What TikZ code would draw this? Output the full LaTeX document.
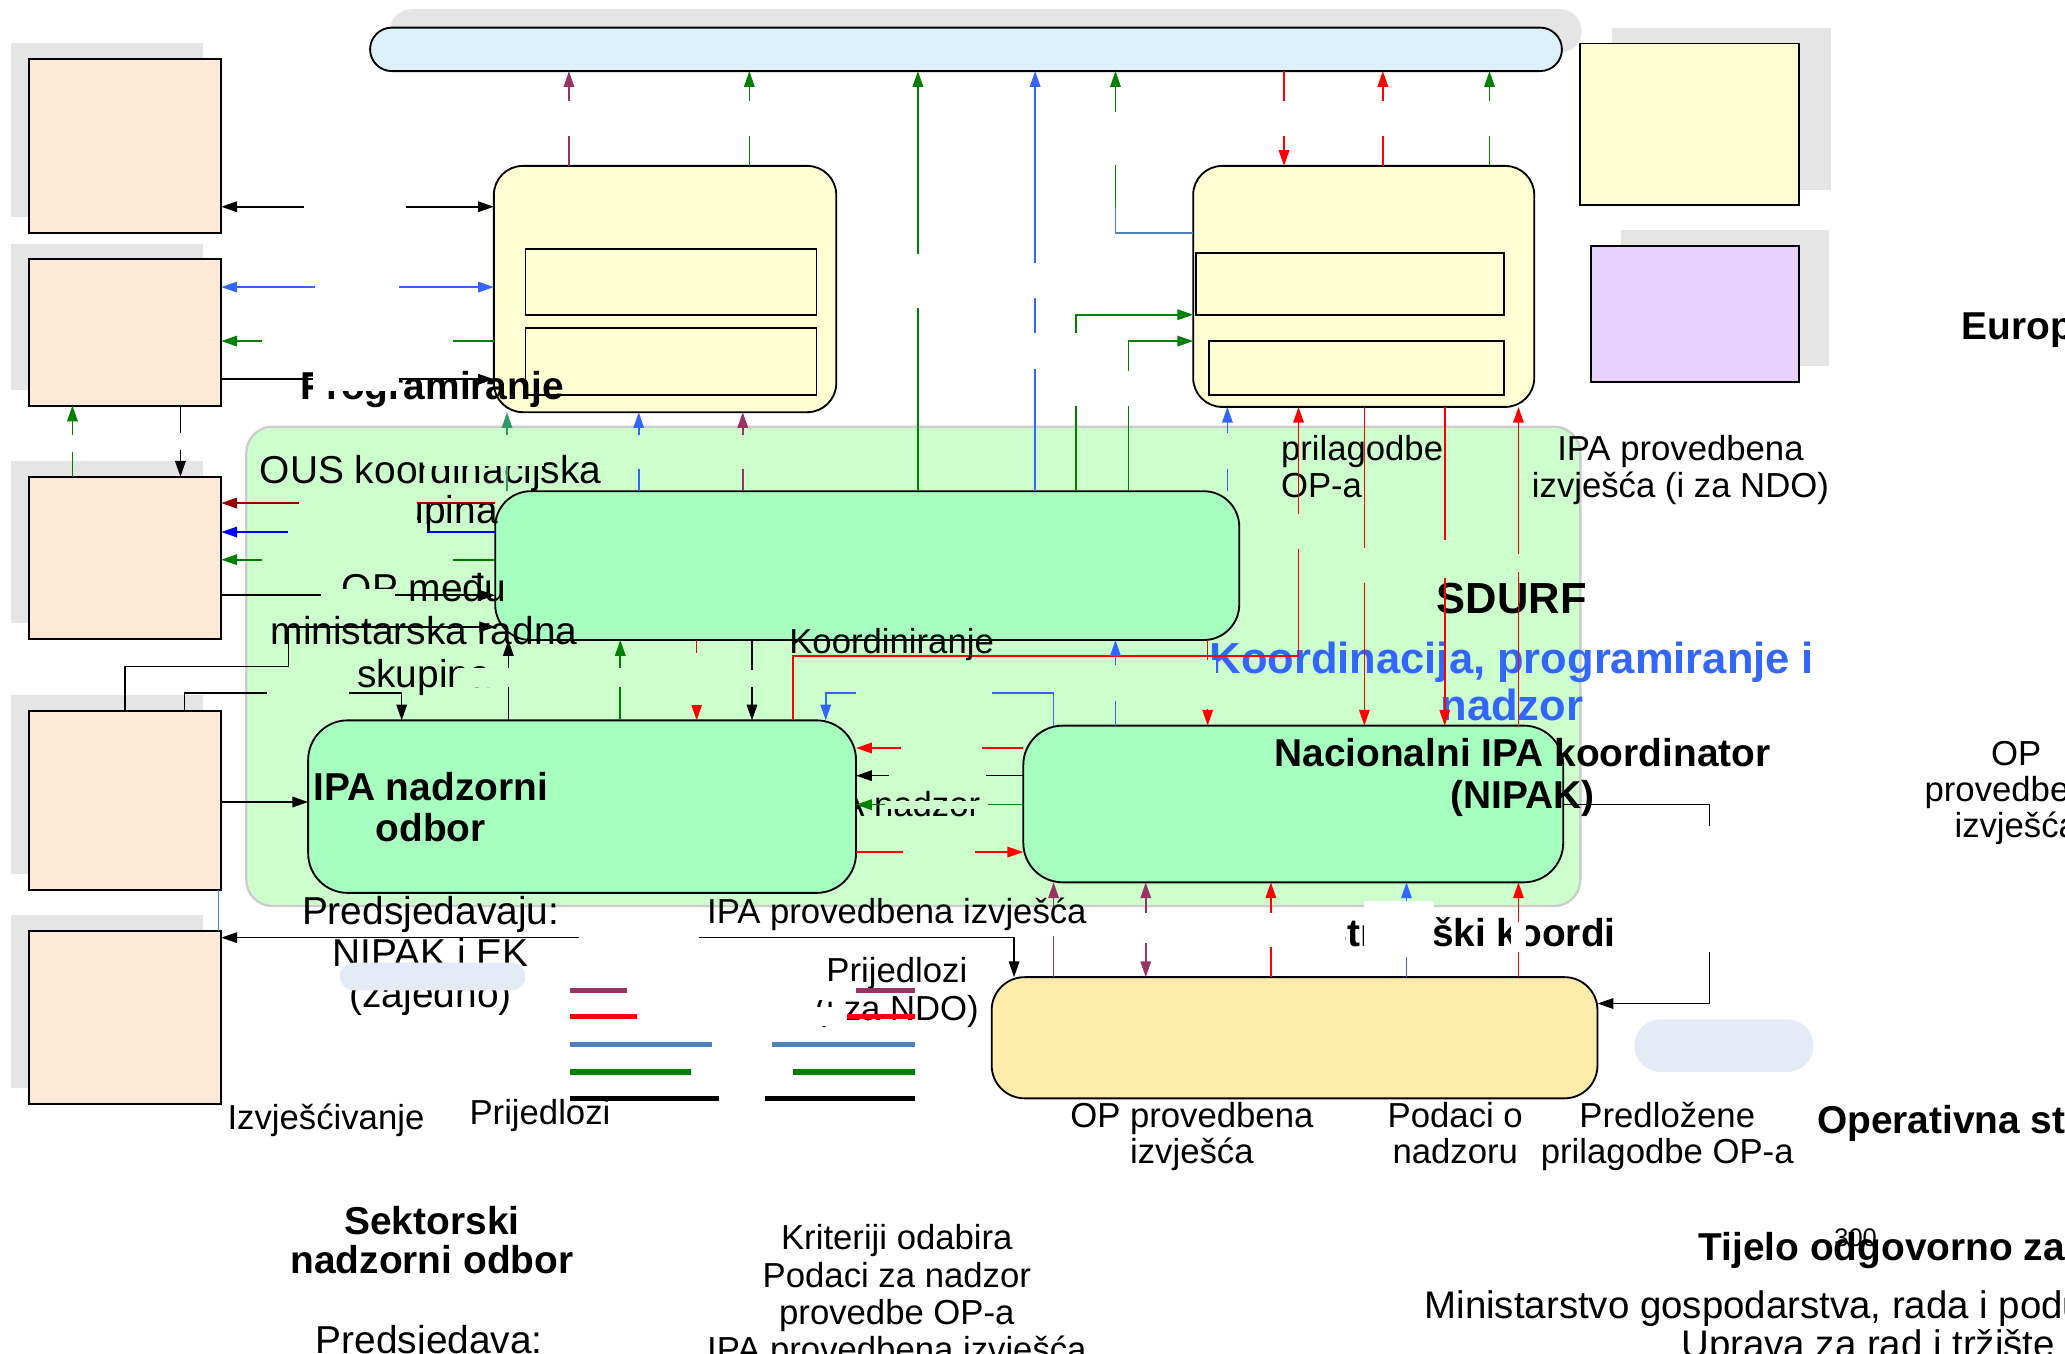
\documentclass[tikz,border=0pt]{standalone}
\usepackage{fontspec}
\setmainfont{Liberation Sans}
\usetikzlibrary{arrows.meta}
\definecolor{peach}{HTML}{FDE9D6}
\definecolor{lemon}{HTML}{FFFFD4}
\definecolor{lilac}{HTML}{E6D2FC}
\definecolor{sky}{HTML}{DCF1FB}
\definecolor{mint}{HTML}{CCFFCC}
\definecolor{leaf}{HTML}{A7FFBF}
\definecolor{sand}{HTML}{FFECAB}
\definecolor{mist}{HTML}{E5EBF6}
\definecolor{shadowgray}{HTML}{E5E5E5}
\definecolor{cPur}{HTML}{993366}
\definecolor{cRed}{HTML}{FF0000}
\definecolor{cBlu}{HTML}{3366FF}
\definecolor{cGrn}{HTML}{008000}
\definecolor{cTea}{HTML}{339966}
\definecolor{cDrd}{HTML}{990000}
\definecolor{cDbl}{HTML}{0000FF}
\definecolor{cLeg}{HTML}{4F81BD}
\begin{document}
\begin{tikzpicture}[x=0.1mm, y=-0.1mm, >={Triangle[length=1.2mm,width=0.8mm]},
  box/.style={draw, line width=0.4pt, inner sep=0pt, outer sep=0pt},
  con/.style={line width=0.35pt},
  sm/.style={inner sep=0pt, align=center, font=\fontsize{7.5}{8.1}\selectfont},
  md/.style={inner sep=0pt, align=center, font=\fontsize{8.4}{9}\selectfont},
  bd/.style={inner sep=0pt, align=center, font=\bfseries\fontsize{8.4}{8.8}\selectfont},
  bg/.style={inner sep=0pt, align=center, font=\bfseries\fontsize{9.4}{10.1}\selectfont}]
\useasboundingbox (0,0) rectangle (1568,1028);

% shadows
\fill[shadowgray, rounded corners=1.65mm] (296,7) rectangle (1201,40);
\foreach \ya/\yb in {45/177, 197/308, 362/485, 540/676, 707/838}
  \fill[shadowgray] (8,\ya-12) rectangle (154,\yb-12);
\fill[shadowgray] (1224,21) rectangle (1390,144);
\fill[shadowgray] (1231,175) rectangle (1389,278);

% outer boxes
\node[box, fill=sky, rounded corners=1.65mm, minimum width=90.5mm, minimum height=3.3mm] (top) at (733.5,37.5) {};
\foreach \n/\yc/\hh in {1/111/13.2, 2/252.5/11.1, 3/423.5/12.3, 4/608/13.6, 5/772.5/13.1}
  \node[box, fill=peach, minimum width=14.6mm, minimum height=\hh mm] (org\n) at (95,\yc) {};
\node[box, fill=lemon, rounded corners=2.2mm, minimum width=26mm, minimum height=18.7mm] (prog) at (505,219.5) {};
\node[box, fill=lemon, minimum width=22.1mm, minimum height=5mm] (prog1) at (509.5,214) {};
\node[box, fill=lemon, minimum width=22.1mm, minimum height=5.1mm] (prog2) at (509.5,274.5) {};
\node[box, fill=lemon, rounded corners=2.2mm, minimum width=25.9mm, minimum height=18.3mm] (strat) at (1035.5,217.5) {};
\node[box, fill=lemon, minimum width=23.4mm, minimum height=4.7mm] (strat1) at (1025,215.5) {};
\node[box, fill=lemon, minimum width=22.4mm, minimum height=4.1mm] (strat2) at (1030,279.5) {};
\node[box, fill=lemon, minimum width=16.6mm, minimum height=12.3mm] (ek) at (1283,94.5) {};
\node[box, fill=lilac, minimum width=15.8mm, minimum height=10.3mm] (nao) at (1287,238.5) {};

% SDURF area
\node[draw=gray!40, line width=0.5pt, fill=mint, rounded corners=2mm, inner sep=0pt,
  minimum width=101.3mm, minimum height=36.4mm] (sdurf) at (693.5,506) {};
\node[sm, anchor=base east] (tnadz) at (745,620) {IPA nadzor};
\node[sm, anchor=north west, align=left, font=\fontsize{7.5}{8}\selectfont] (tprilag) at (972,330) {prilagodbe\\OP-a};
\node[sm, anchor=north, font=\fontsize{7.5}{8}\selectfont] (tipa) at (1276,330) {IPA provedbena\\izvješća (i za NDO)};
\node[bg, anchor=base] (tsdurf) at (1148,465.6) {SDURF};
\node[bg, anchor=north, text=cBlu] (tkpn) at (1148,487) {Koordinacija, programiranje i\\nadzor};

% inner boxes
\node[box, fill=leaf, rounded corners=2.7mm, minimum width=56.5mm, minimum height=11.3mm] (koord) at (658.5,429.5) {};
\node[box, fill=leaf, rounded corners=3mm, minimum width=41.6mm, minimum height=13.1mm] (nadz) at (442,612.5) {};
\node[box, fill=leaf, rounded corners=3mm, minimum width=41mm, minimum height=11.9mm] (nipak) at (982,610.5) {};
\node[box, fill=sand, rounded corners=2.5mm, minimum width=46mm, minimum height=9.2mm] (os) at (983,788) {};

\node[bd, anchor=base] (tprog) at (328,303) {Programiranje};
\node[md, anchor=north, font=\fontsize{8.4}{8.6}\selectfont] (tous) at (327,345) {OUS koordinacijska\\skupina};
\node[md, anchor=north, font=\fontsize{8.4}{9.2}\selectfont] (topmr) at (322,435) {OP među\\ministarska radna\\skupina};
\node[md, anchor=north] (tpred) at (327,680) {Predsjedavaju:\\NIPAK i EK\\(zajedno)};
\node[sm, anchor=north, font=\fontsize{7.5}{8.3}\selectfont] (tprij) at (681,726) {Prijedlozi\\(i za NDO)};
\node[bd, anchor=base west] (tstrat) at (1003,719) {Strateški koordinator};

% top row
\draw[con, cPur, ->] (432,0 |- prog.north) -- (432,0 |- top.south);
\draw[con, cGrn, ->] (569,0 |- prog.north) -- (569,0 |- top.south);
\draw[con, cGrn, ->] (697,0 |- koord.north) -- (697,0 |- top.south);
\draw[con, cBlu, ->] (786,0 |- koord.north) -- (786,0 |- top.south);
\coordinate (bend) at (847,157);
\draw[con, cLeg] (strat.west |- 0,177) -| (bend);
\draw[con, cGrn, ->] (bend) -- (847,0 |- top.south);
\draw[con, cRed, ->] (975,0 |- top.south) -- (975,0 |- strat.north);
\draw[con, cRed, ->] (1050,0 |- strat.north) -- (1050,0 |- top.south);
\draw[con, cGrn, ->] (1131,0 |- strat.north) -- (1131,0 |- top.south);
\draw[con, cGrn, ->] (817,0 |- koord.north) |- (strat.west |- 0,239);
\draw[con, cGrn, ->] (857,0 |- koord.north) |- (strat.west |- 0,259);
% left column
\draw[con, <->] (org1.east |- 0,157) -- (prog.west |- 0,157);
\draw[con, cBlu, <->] (org2.east |- 0,218) -- (prog.west |- 0,218);
\draw[con, cGrn, ->] (prog.west |- 0,259) -- (org2.east |- 0,259);
\draw[con, ->] (org2.east |- 0,288) -- (prog.west |- 0,288);
\draw[con, cGrn, ->] (55,0 |- org3.north) -- (55,0 |- org2.south);
\draw[con, ->] (137,0 |- org2.south) -- (137,0 |- org3.north);
\draw[con, cDrd, ->] (koord.west |- 0,382) -- (org3.east |- 0,382);
\draw[con, cDbl, ->] (koord.west |- 0,404) -- (org3.east |- 0,404);
\draw[con, cGrn, ->] (koord.west |- 0,425) -- (org3.east |- 0,425);
\draw[con, ->] (org3.east |- 0,452) -- (koord.west |- 0,452);
\draw[con, ->] (95,0 |- org4.north) |- (219,506) |- (koord.west |- 0,476);
\draw[con, ->] (140,0 |- org4.north) |- (305,526) -- (305,0 |- nadz.north);
\draw[con, ->] (org4.east |- 0,609) -- (nadz.west |- 0,609);
\draw[con, cLeg] (166,0 |- org4.south) -- (166,0 |- org5.north);
\draw[con, <->] (org5.east |- 0,712) -| (770,0 |- os.north);
% middle
\draw[con, cTea, ->] (385,0 |- koord.north) -- (385,0 |- prog.south);
\draw[con, cBlu, ->] (485,0 |- koord.north) -- (485,0 |- prog.south);
\draw[con, cPur, ->] (564,0 |- koord.north) -- (564,0 |- prog.south);
\draw[con, ->] (386,0 |- nadz.north) -- (386,0 |- koord.south);
\draw[con, cGrn, ->] (471,0 |- nadz.north) -- (471,0 |- koord.south);
\draw[con, cRed, ->] (529,0 |- koord.south) -- (529,0 |- nadz.north);
\draw[con, ->] (571,0 |- koord.south) -- (571,0 |- nadz.north);
\draw[con, cRed, ->] (602,0 |- nadz.north) |- (986,498) -- (986,0 |- strat.south);
\draw[con, cRed, ->] (917,0 |- koord.south) -- (917,0 |- nipak.north);
\draw[con, cBlu, ->] (847,0 |- nipak.north) -- (847,0 |- koord.south);
\draw[con, cBlu, ->] (800,0 |- nipak.north) |- (627,526) -- (627,0 |- nadz.north);
\draw[con, cRed, ->] (nipak.west |- 0,568) -- (nadz.east |- 0,568);
\draw[con, ->] (nipak.west |- 0,589) -- (nadz.east |- 0,589);
\draw[con, cGrn, ->] (nipak.west |- 0,611) -- (nadz.east |- 0,611);
\draw[con, cRed, ->] (nadz.east |- 0,647) -- (nipak.west |- 0,647);
\draw[con, cBlu, ->] (932,0 |- koord.north) -- (932,0 |- strat.south);
\draw[con, cRed, ->] (1036,0 |- strat.south) -- (1036,0 |- nipak.north);
\draw[con, cRed, ->] (1097,0 |- strat.south) -- (1097,0 |- nipak.north);
\draw[con, cRed, ->] (1153,0 |- nipak.north) -- (1153,0 |- strat.south);
% bottom
\draw[con, cPur, ->] (800,0 |- os.north) -- (800,0 |- nipak.south);
\draw[con, cPur, <->] (870,0 |- nipak.south) -- (870,0 |- os.north);
\draw[con, cRed, ->] (965,0 |- os.north) -- (965,0 |- nipak.south);
\draw[con, cBlu, ->] (1068,0 |- os.north) -- (1068,0 |- nipak.south);
\draw[con, cRed, ->] (1153,0 |- os.north) -- (1153,0 |- nipak.south);
\draw[con, ->] (nipak.east |- 0,611) -| (1298,762) -- (os.east |- 0,762);

% legend
\foreach \yy/\cc in {752/cPur, 772/cRed, 793/cLeg, 814/cGrn, 834/black}
  \draw[line width=1.1pt, \cc] (433,\yy) -- (695,\yy);

% label gaps
\foreach \xa/\ya/\xb/\yb in {426/77/438/103, 563/77/575/103, 691/193/703/234, 780/200/792/226,
  780/253/792/280, 841/85/853/125, 811/253/823/308, 851/282/863/308, 969/77/981/103,
  1044/77/1056/103, 1125/77/1137/103, 231/151/308/163, 239/212/303/224, 199/253/344/265,
  238/282/303/297, 49/330/61/343, 131/329/143/342, 440/704/531/720, 794/693/806/711,
  864/693/876/716, 935/693/1021/719, 1036/684/1089/727, 1147/700/1159/723, 1226/627/1372/723,
  476/745/650/759, 484/765/643/779, 541/786/586/800, 525/807/602/821, 546/827/581/841}
  \fill[white] (\xa,\ya) rectangle (\xb,\yb);
\foreach \xa/\ya/\xb/\yb in {322/330/413/354, 479/330/491/356, 558/330/570/356, 227/373/317/398,
  219/398/324/410, 199/419/344/431, 244/447/300/461, 203/520/265/532, 347/507/392/522,
  465/507/477/522, 523/496/535/535, 565/509/577/522, 911/501/923/538, 841/505/853/532,
  650/520/753/532, 684/562/746/574, 675/583/749/595, 672/608/750/614, 686/641/740/653,
  926/329/938/356, 980/390/992/417, 1030/416/1042/443, 1091/410/1103/439, 1147/421/1159/434}
  \fill[mint] (\xa,\ya) rectangle (\xb,\yb);

% labels
\node[bd, anchor=north, font=\bfseries\fontsize{8.4}{8.7}\selectfont] (tnadzor) at (327,586) {IPA nadzorni\\odbor};
\node[bd, anchor=north, font=\bfseries\fontsize{8.4}{9}\selectfont] (tnipak) at (1156,560) {Nacionalni IPA koordinator\\(NIPAK)};
\node[sm, anchor=base] (tkoord) at (677,496) {Koordiniranje};
\node[sm, anchor=base] (tipaizv) at (681,701) {IPA provedbena izvješća};
\node[sm, anchor=base] (tizv) at (247.5,858) {Izvješćivanje};
\node[sm, anchor=base] (tprij2) at (410,854) {Prijedlozi};
\node[bd, anchor=north, font=\bfseries\fontsize{8.4}{8.6}\selectfont] (tsek) at (328,915) {Sektorski\\nadzorni odbor};
\node[md, anchor=base] (tpred2) at (326,1027.6) {Predsjedava:};
\node[sm, anchor=north] (tkrit) at (681,929) {Kriteriji odabira\\Podaci za nadzor\\provedbe OP-a\\IPA provedbena izvješća};
\node[sm, anchor=north, font=\fontsize{7.5}{7.8}\selectfont] (topizv) at (905,836.5) {OP provedbena\\izvješća};
\node[sm, anchor=north, font=\fontsize{7.5}{7.8}\selectfont] (tpod) at (1105,836.5) {Podaci o\\nadzoru};
\node[sm, anchor=north, font=\fontsize{7.5}{7.8}\selectfont] (tpredl) at (1266,836.5) {Predložene\\prilagodbe OP-a};
\node[sm, anchor=north, font=\fontsize{7.5}{7.8}\selectfont] (topr) at (1531,562) {OP\\provedbena\\izvješća};
\node[bd, anchor=base west] (teu) at (1489,258) {Europska};
\node[bd, anchor=base west] (tos) at (1379,860.6) {Operativna struktura};
\node[bd, anchor=base west] (ttijelo) at (1289,957) {Tijelo odgovorno za};
\node[inner sep=0pt, font=\fontsize{5.5}{6}\selectfont] (tnum) at (1409,940) {300};
\node[md, anchor=base west, font=\fontsize{8.3}{9}\selectfont] (tmin) at (1081,1001) {Ministarstvo gospodarstva, rada i poduzetništva};
\node[md, anchor=base west, font=\fontsize{8.3}{9}\selectfont] (tupr) at (1276,1031) {Uprava za rad i tržište};

% pale pills
\node[fill=mist, rounded corners=1.05mm, inner sep=0pt, minimum width=14.1mm, minimum height=2.1mm] (pill1) at (328.5,741.5) {};
\node[fill=mist, rounded corners=2mm, inner sep=0pt, minimum width=13.6mm, minimum height=4mm] (pill2) at (1309,794) {};
\end{tikzpicture}
\end{document}
